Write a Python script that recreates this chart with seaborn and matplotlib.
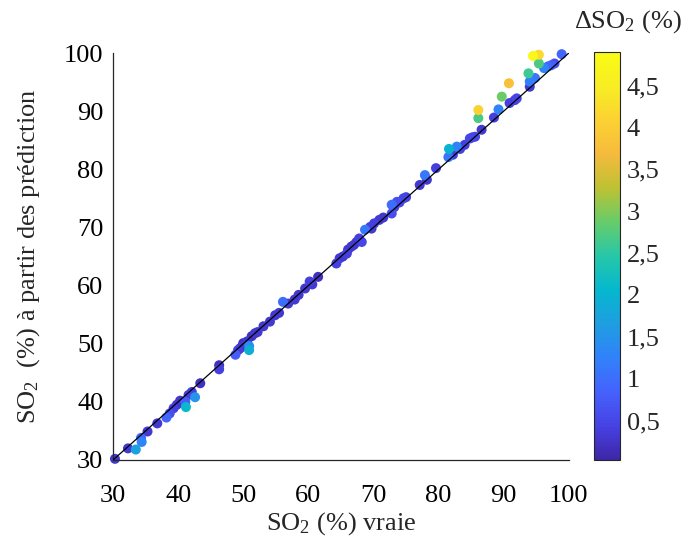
import numpy as np
import pandas as pd
import matplotlib
matplotlib.use("Agg")
import matplotlib.pyplot as plt
import seaborn as sns
from matplotlib.colors import LinearSegmentedColormap, Normalize
from matplotlib.cm import ScalarMappable
from matplotlib.ticker import FuncFormatter

# ---- data ----
so2_true = [30.3, 32.3, 33.5, 34.3, 34.4, 35.3, 36.8, 38.2, 38.7, 39.3, 39.8, 40.3,
            41.2, 41.1, 41.6, 42.1, 42.6, 43.4, 46.3, 46.3, 48.8, 49.2, 49.8, 50.3,
            50.9, 50.9, 51.3, 50.0, 51.8, 53.1, 54.1, 54.9, 56.1, 56.9, 57.9, 59.5,
            60.2, 61.5, 64.3, 64.8, 65.9, 66.6, 67.4, 67.8, 68.2, 68.7, 69.5, 69.7,
            70.1, 70.9, 72.8, 72.8, 73.6, 74.6, 77.1, 77.9, 78.2, 79.6, 81.5, 81.6,
            82.2, 82.8, 84.0, 84.8, 85.6, 86.6, 86.1, 86.1, 88.5, 89.2, 89.7, 90.8,
            90.9, 91.7, 94.0, 93.8, 94.0, 94.8, 94.5, 95.4, 95.4, 96.2, 97.3, 98.9,
            49.5, 50.6, 52.2, 55.5, 58.5, 60.6, 65.3, 66.1, 67.0, 71.5, 73.2, 74.0,
            75.0, 83.3, 85.2, 92.0, 96.8, 97.8]
so2_pred = [30.2, 32.0, 31.8, 33.8, 33.1, 34.9, 36.3, 37.3, 38.0, 38.9, 39.5, 40.2,
            39.1, 40.0, 41.2, 41.7, 40.8, 43.2, 46.3, 45.6, 48.1, 48.9, 49.5, 49.95,
            49.6, 48.9, 51.3, 50.1, 51.8, 53.0, 53.8, 54.9, 57.2, 56.9, 57.6, 59.5,
            60.7, 61.5, 63.8, 64.7, 65.5, 66.7, 67.5, 68.1, 67.5, 69.6, 70.1, 69.8,
            70.7, 71.3, 72.4, 73.9, 74.4, 75.0, 77.3, 79.0, 78.2, 80.2, 82.1, 83.5,
            82.5, 83.9, 84.2, 85.3, 85.6, 86.8, 90.2, 88.8, 88.9, 90.3, 92.5, 94.8,
            91.4, 91.9, 94.2, 96.5, 95.1, 95.7, 99.5, 99.7, 98.2, 97.4, 97.9, 99.8,
            49.2, 50.4, 52.0, 55.3, 58.4, 60.2, 65.0, 66.2, 67.0, 71.7, 73.5, 74.3,
            75.2, 83.5, 85.5, 92.2, 97.7, 98.2]
delta_so2 = [0.3, 0.3, 1.7, 0.9, 1.3, 0.3, 0.3, 0.9, 0.6, 0.4, 0.3, 0.3,
             2.1, 0.8, 0.4, 0.4, 1.5, 0.2, 0.2, 0.4, 0.8, 0.4, 0.3, 0.3,
             1.4, 1.9, 0.2, 0.2, 0.3, 0.3, 0.3, 0.3, 1.0, 0.3, 0.3, 0.3,
             0.4, 0.2, 0.4, 0.3, 0.4, 0.3, 0.3, 0.4, 0.5, 1.1, 0.4, 0.3,
             0.4, 0.3, 0.6, 1.0, 0.6, 0.5, 0.3, 1.1, 0.3, 0.4, 1.1, 2.0,
             0.4, 1.3, 0.4, 0.5, 0.5, 0.3, 4.1, 2.7, 0.4, 1.3, 2.9, 3.8,
             0.4, 0.4, 0.3, 2.6, 1.2, 1.1, 4.8, 4.2, 2.7, 1.3, 0.8, 0.9,
             0.3, 0.3, 0.3, 0.3, 0.3, 0.3, 0.3, 0.3, 0.3, 0.3, 0.4, 0.5,
             0.4, 0.4, 0.4, 0.5, 0.9, 0.6]
x_ticks = [30, 40, 50, 60, 70, 80, 90, 100]
y_ticks = [30, 40, 50, 60, 70, 80, 90, 100]
cbar_ticks = [0.5, 1, 1.5, 2, 2.5, 3, 3.5, 4, 4.5]
cbar_range = (0.03, 4.9)

df = pd.DataFrame({"true": so2_true, "pred": so2_pred, "delta": delta_so2})
df = df.sort_values("delta", kind="stable")

# parula-like colormap
parula_pts = [
    (0.2422, 0.1504, 0.6603),
    (0.2760, 0.2590, 0.8920),
    (0.2700, 0.3850, 0.9900),
    (0.1900, 0.5100, 0.9800),
    (0.1200, 0.6200, 0.8800),
    (0.0200, 0.7200, 0.8100),
    (0.1500, 0.7800, 0.6600),
    (0.4000, 0.8000, 0.4200),
    (0.7400, 0.7600, 0.2000),
    (0.9600, 0.7300, 0.2400),
    (0.9900, 0.8200, 0.2000),
    (0.9700, 0.9300, 0.1400),
    (0.9769, 0.9839, 0.0805),
]
parula = LinearSegmentedColormap.from_list("parula", parula_pts, N=256)

sns.set_style("white")
plt.rcParams["font.family"] = ["Liberation Serif", "DejaVu Serif"]
plt.rcParams["mathtext.fontset"] = "custom"
plt.rcParams["mathtext.rm"] = "Liberation Serif"
plt.rcParams["mathtext.it"] = "Liberation Serif:italic"
plt.rcParams["mathtext.bf"] = "Liberation Serif:bold"

FS = 19

fig = plt.figure(figsize=(6.87, 5.36), dpi=100)
ax = fig.add_axes([0.1645, 0.1418, 0.6635, 0.7593])
cax = fig.add_axes([0.8646, 0.1418, 0.0378, 0.761])

sns.scatterplot(data=df, x="true", y="pred", hue="delta", palette=parula,
                hue_norm=cbar_range, legend=False, s=52, linewidth=0,
                edgecolor="none", ax=ax, clip_on=False, zorder=2)
ax.plot([30, 100], [30, 100], color="black", lw=0.9, zorder=3)

ax.set_xlim(30, 100)
ax.set_ylim(30, 100)
ax.set_xticks(x_ticks)
ax.set_yticks(y_ticks)
for s in ["top", "right"]:
    ax.spines[s].set_visible(False)
for s in ["left", "bottom"]:
    ax.spines[s].set_color("#262626")
    ax.spines[s].set_linewidth(0.9)
ax.tick_params(direction="in", length=5, width=0.8, labelsize=FS,
               colors="#262626", labelcolor="black")
ax.tick_params(axis="x", pad=18)
ax.tick_params(axis="y", pad=7)
ax.set_xlabel(r"SO$_2$ (%) vraie", fontsize=FS, labelpad=2)
ax.set_ylabel(r"SO$_2$  (%) à partir des prédiction", fontsize=FS, labelpad=16)

sm = ScalarMappable(norm=Normalize(*cbar_range), cmap=parula)
cb = fig.colorbar(sm, cax=cax)
cb.set_ticks(cbar_ticks)
cb.ax.yaxis.set_major_formatter(FuncFormatter(lambda v, p: f"{v:g}".replace(".", ",")))
cb.ax.tick_params(direction="in", length=4, width=0.8, labelsize=FS, pad=5)
cb.outline.set_linewidth(0.8)
cb.outline.set_edgecolor("#262626")
fig.text(628 / 687, 1 - 22 / 536, r"$\Delta$SO$_2$ (%)", fontsize=FS,
         ha="center", va="center")

fig.savefig("out.png", dpi=100)
